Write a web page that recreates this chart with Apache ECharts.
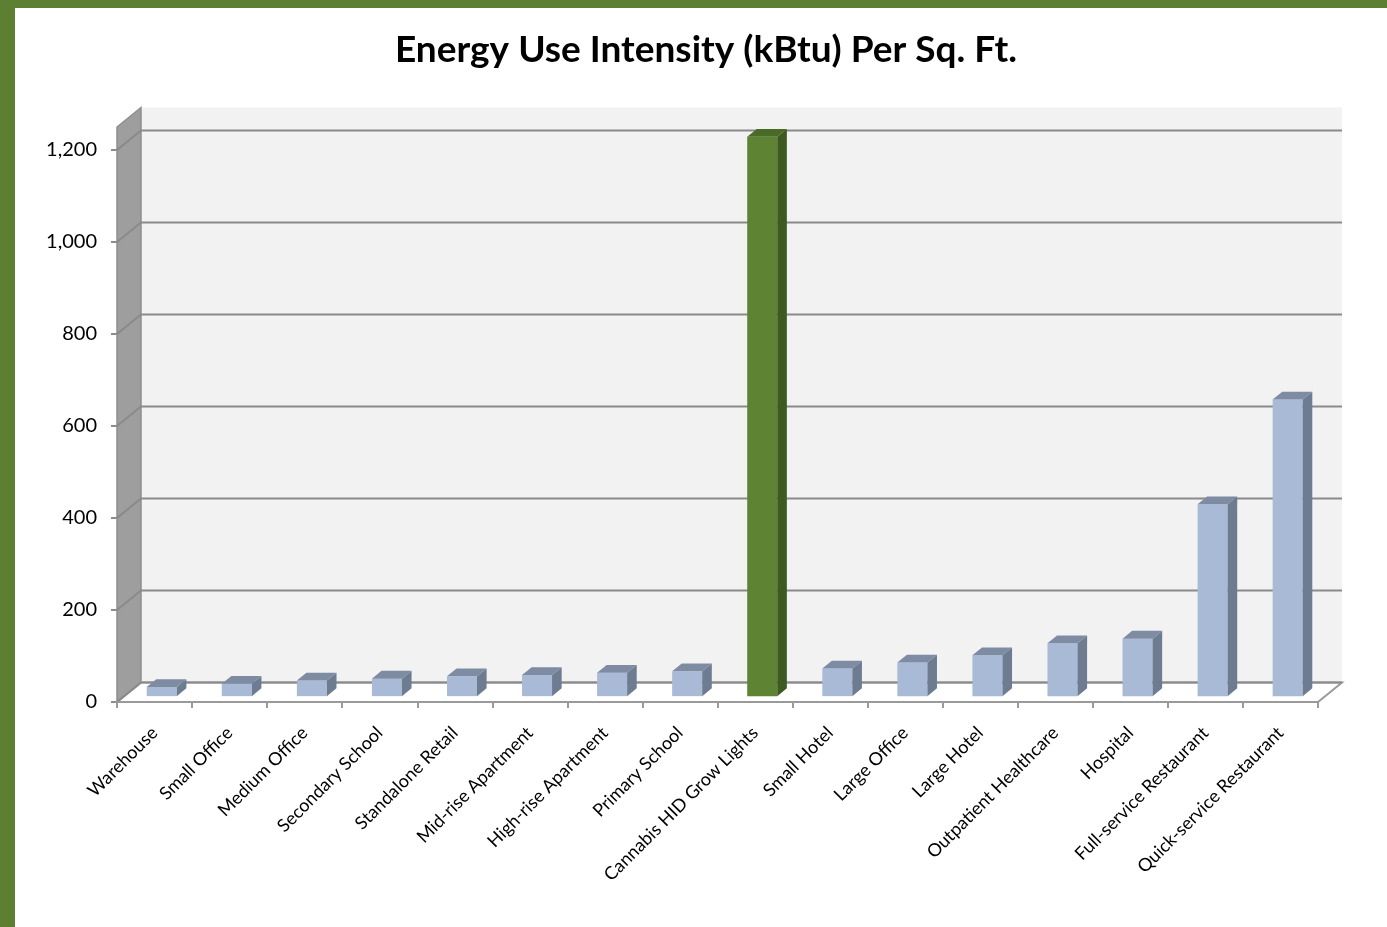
<!DOCTYPE html>
<html>
<head>
<meta charset="utf-8">
<title>Energy Use Intensity (kBtu) Per Sq. Ft.</title>
<script src="https://cdn.jsdelivr.net/npm/echarts@6/dist/echarts.min.js"></script>
<style>
  html, body { margin: 0; padding: 0; background: #ffffff; }
  #chart { width: 1387px; height: 927px; }
</style>
</head>
<body>
<div id="chart"></div>
<script>
// Building types, left to right
const categories = [
  'Warehouse', 'Small Office', 'Medium Office', 'Secondary School',
  'Standalone Retail', 'Mid-rise Apartment', 'High-rise Apartment', 'Primary School',
  'Cannabis HID Grow Lights', 'Small Hotel', 'Large Office', 'Large Hotel',
  'Outpatient Healthcare', 'Hospital', 'Full-service Restaurant', 'Quick-service Restaurant'
];
// Energy use intensity, kBtu per square foot
const euiValues = [20, 27, 34, 38, 43, 46, 51, 54, 1216, 60, 73, 89, 115, 125, 417, 645];
// The one highlighted building type
const highlight = 'Cannabis HID Grow Lights';
// Value axis ticks
const yTicks = [0, 200, 400, 600, 800, 1000, 1200];
const wallTop = 1250;

// Oblique depth of the floor / walls, in pixels
const DEPTH = [24, -19.5];
const BAR_FRONT = 0.3;   // bar front face sits this far into the depth
const BAR_DEPTH = 0.4;   // bar thickness as a fraction of the depth
const BAR_WIDTH = 0.4;   // bar width as a fraction of a category band

const FONT = 'Lato, "Open Sans", sans-serif';
const GREEN = '#5d7f31';

const blueFaces = { front: '#a9bad6', side: '#6e7c91', top: '#7d8ba3' };
const greenFaces = { front: '#5e8332', side: '#3d5b20', top: '#4a6b28' };

function shift(p, f) {
  return [p[0] + DEPTH[0] * f, p[1] + DEPTH[1] * f];
}

const chart = echarts.init(document.getElementById('chart'), null, { renderer: 'canvas' });

const option = {
  backgroundColor: '#ffffff',
  animation: false,
  title: {
    text: 'Energy Use Intensity (kBtu) Per Sq. Ft.',
    left: 701,
    top: 27,
    textAlign: 'center',
    textStyle: { fontFamily: FONT, fontSize: 37, fontWeight: 'bold', color: '#000' }
  },
  graphic: [
    { type: 'rect', left: 0, top: 0, shape: { width: 15, height: 927 }, style: { fill: GREEN }, z: 100 },
    { type: 'rect', left: 0, top: 0, shape: { width: 1387, height: 8 }, style: { fill: GREEN }, z: 100 }
  ],
  grid: { left: 117, right: 69, top: 150, bottom: 225, containLabel: false },
  xAxis: {
    type: 'category',
    data: categories,
    boundaryGap: true,
    z: 5,
    axisLine: { show: true, lineStyle: { color: '#9a9a9a', width: 2 } },
    axisTick: { show: true, alignWithLabel: false, length: 6, lineStyle: { color: '#9a9a9a', width: 2 } },
    axisLabel: {
      interval: 0,
      rotate: 45,
      margin: 28,
      fontFamily: FONT,
      fontSize: 18,
      color: '#000'
    }
  },
  yAxis: {
    type: 'value',
    min: 0,
    max: 1200,
    interval: 200,
    axisLine: { show: false },
    axisTick: { show: true, length: 6, lineStyle: { color: '#8c8c8c', width: 2 } },
    splitLine: { show: false },
    axisLabel: {
      margin: 20,
      fontFamily: FONT,
      fontSize: 20,
      color: '#000',
      formatter: v => v.toLocaleString('en-US')
    }
  },
  series: [
    {
      // side wall, back wall, floor and the gridlines on the walls
      type: 'custom',
      z: 1,
      silent: true,
      data: [[0, 0]],
      renderItem: function (params, api) {
        const band = api.size([1, 0])[0];
        const L = api.coord([0, 0])[0] - band / 2;
        const R = api.coord([categories.length - 1, 0])[0] + band / 2;
        const y0 = api.coord([0, 0])[1];
        const yT = api.coord([0, wallTop])[1];
        const children = [];
        // back wall
        children.push({
          type: 'polygon',
          shape: { points: [shift([L, yT], 1), shift([R, yT], 1), shift([R, y0], 1), shift([L, y0], 1)] },
          style: { fill: '#f2f2f2', stroke: null }
        });
        // side wall
        children.push({
          type: 'polygon',
          shape: { points: [[L, y0], [L, yT], shift([L, yT], 1), shift([L, y0], 1)] },
          style: { fill: '#9e9e9e', stroke: '#8e8e8e', lineWidth: 1.5 }
        });
        // floor
        children.push({
          type: 'polygon',
          shape: { points: [[L, y0], [R, y0], shift([R, y0], 1), shift([L, y0], 1)] },
          style: { fill: '#ffffff', stroke: '#9a9a9a', lineWidth: 2 }
        });
        // gridlines
        yTicks.forEach(function (v) {
          const y = api.coord([0, v])[1];
          children.push({
            type: 'polyline',
            shape: { points: [[L, y], shift([L, y], 1), shift([R, y], 1)] },
            style: { fill: null, stroke: '#8a8a8a', lineWidth: 2 }
          });
        });
        return { type: 'group', children: children };
      }
    },
    {
      // 3-D columns
      type: 'custom',
      z: 3,
      data: euiValues.map((v, i) => [i, v]),
      renderItem: function (params, api) {
        const i = api.value(0);
        const v = api.value(1);
        const band = api.size([1, 0])[0];
        const c = api.coord([i, v]);
        const b = api.coord([i, 0]);
        const w = band * BAR_WIDTH;
        const faces = categories[i] === highlight ? greenFaces : blueFaces;
        const fl = shift([c[0] - w / 2, c[1]], BAR_FRONT);
        const fr = shift([c[0] + w / 2, c[1]], BAR_FRONT);
        const bl = shift([b[0] - w / 2, b[1]], BAR_FRONT);
        const br = shift([b[0] + w / 2, b[1]], BAR_FRONT);
        const d = BAR_DEPTH;
        return {
          type: 'group',
          children: [
            { type: 'polygon', shape: { points: [fl, fr, br, bl] }, style: { fill: faces.front } },
            { type: 'polygon', shape: { points: [fr, shift(fr, d), shift(br, d), br] }, style: { fill: faces.side } },
            { type: 'polygon', shape: { points: [fl, shift(fl, d), shift(fr, d), fr] }, style: { fill: faces.top } }
          ]
        };
      }
    }
  ]
};

chart.setOption(option);
</script>
</body>
</html>
